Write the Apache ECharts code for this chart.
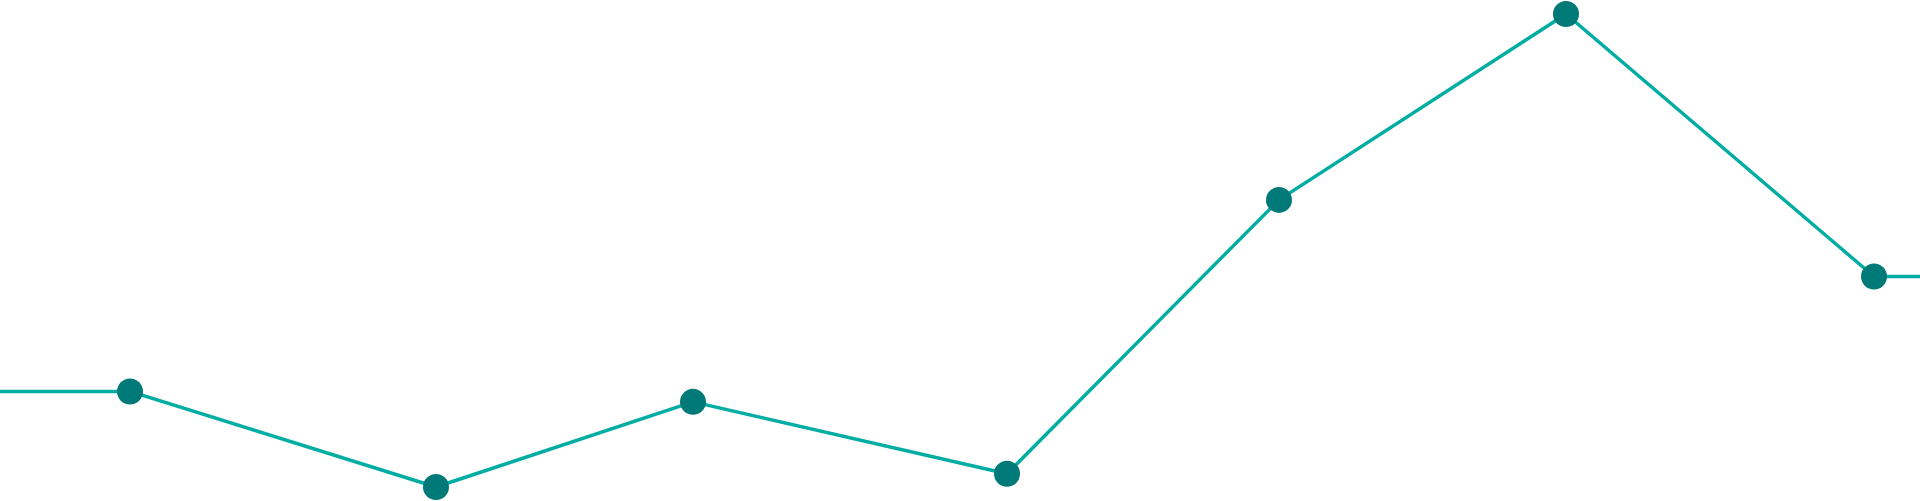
<!DOCTYPE html>
<html>
<head>
<meta charset="utf-8">
<title>line</title>
<script src="https://cdn.jsdelivr.net/npm/echarts@6/dist/echarts.min.js"></script>
<style>
	html, body { margin: 0; padding: 0; background: #fff; }
	#lineChart { width: 1920px; height: 501px; }
</style>
</head>
<body>
<div id="lineChart"></div>
<script>
// 日期偏移(天) 和 数值
var days = [13, 43.6, 69.3, 100.7, 127.9, 156.6, 187.4];
var values = [42.2, 22, 40, 24.8, 82.7, 122, 66.5];
var dayMin = 0, dayMax = 192;

var lineColor = '#00ADA2';
var dotColor = '#007A78';

(function() {
	var chart = echarts.init(document.getElementById('lineChart'));

	// 两端延伸到边缘的平线
	var data = [];
	data.push({ value: [dayMin, values[0]], symbol: 'none' });
	for (var i = 0; i < days.length; i++) {
		data.push({ value: [days[i], values[i]] });
	}
	data.push({ value: [dayMax, values[values.length - 1]], symbol: 'none' });

	chart.setOption({
		animation: false,
		grid: { left: 0, right: 0, top: 14, bottom: 14 },
		xAxis: { type: 'value', min: dayMin, max: dayMax, show: false },
		yAxis: { type: 'value', min: 'dataMin', max: 'dataMax', show: false, scale: true },
		series: [{
			type: 'line',
			data: data,
			symbol: 'circle',
			symbolSize: 26,
			showAllSymbol: true,
			lineStyle: { color: lineColor, width: 3.5 },
			itemStyle: { color: dotColor, borderWidth: 0 }
		}]
	});
})();
</script>
</body>
</html>
